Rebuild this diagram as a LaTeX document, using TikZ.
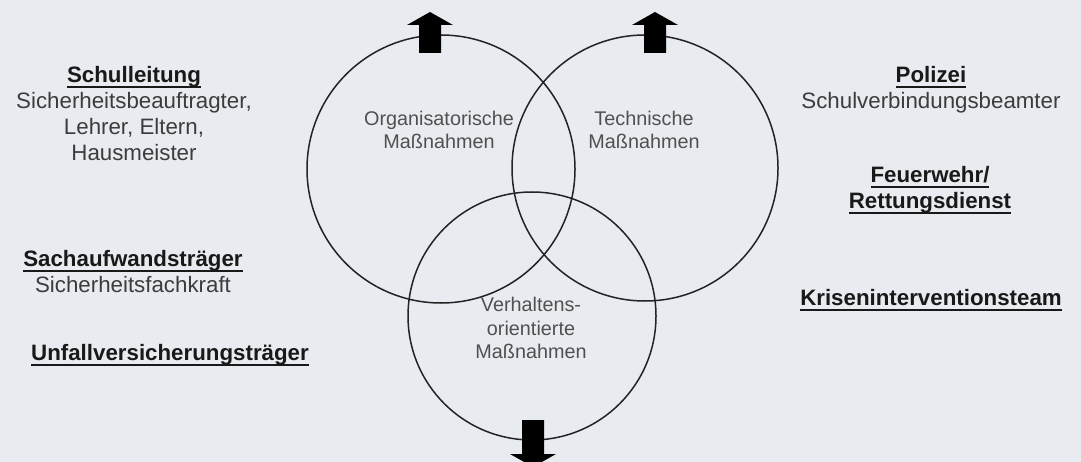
\documentclass[tikz,border=0pt]{standalone}
\usepackage{fontspec}
\setmainfont{Liberation Sans}
\usepackage{xcolor}
\usepackage{tikz}
\definecolor{bggray}{RGB}{232, 236, 240}
\definecolor{headgray}{RGB}{25, 25, 25}
\definecolor{textgray}{RGB}{60, 60, 60}
\definecolor{ringgray}{RGB}{35, 35, 35}
\newcommand{\ulhead}[1]{\setbox0=\hbox{\bfseries #1}\rlap{\rule[-5pt]{\wd0}{1.8pt}}\box0}

\begin{document}
\begin{tikzpicture}[x=1pt, y=-1pt,
    ring/.style={circle, draw=ringgray, line width=1.5pt, minimum size=#1, inner sep=0pt},
    party/.style={font=\fontsize{22.3}{26}\selectfont, text=textgray, align=center, inner sep=0pt},
    measure/.style={font=\fontsize{19.8}{23.5}\selectfont, text=textgray!90, align=center, inner sep=0pt},
    bigarrow/.pic={\fill[black] (-11,#1) -- (-11,13) -- (-23,13) -- (0,0) -- (23,13) -- (11,13) -- (11,#1) -- cycle;}]
    \fill[bggray] (0,0) rectangle (1081,462);
    \useasboundingbox (0,0) rectangle (1081,462);

    % the three fields
    \node[ring=268pt] (orgring) at (441,169) {};
    \node[ring=266pt] (techring) at (645,168) {};
    \node[ring=248pt] (verhring) at (532,316) {};

    \pic at (430,12) {bigarrow=41};
    \pic at (655,12) {bigarrow=41};
    \pic[rotate=180] at (533,467) {bigarrow=47};

    \node[measure] (org) at (439,130) {Organisatorische\\Maßnahmen};
    \node[measure] (tech) at (644,130) {Technische\\Maßnahmen};
    \node[measure] (verh) at (531,328) {Verhaltens-\\orientierte\\Maßnahmen};

    % partners left
    \node[party] (schulleitung) at (134,114) {\textcolor{headgray}{\ulhead{Schulleitung}}\\Sicherheitsbeauftragter,\\Lehrer, Eltern,\\Hausmeister};
    \node[party] (sachaufwand) at (133,272) {\textcolor{headgray}{\ulhead{Sachaufwandsträger}}\\Sicherheitsfachkraft};
    \node[party] (unfall) at (170,355) {\textcolor{headgray}{\ulhead{Unfallversicherungsträger}}};

    % partners right
    \node[party] (polizei) at (931,90) {\textcolor{headgray}{\ulhead{Polizei}}\\Schulverbindungsbeamter};
    \node[party, text=headgray] (feuerwehr) at (930,190) {\ulhead{Feuerwehr/}\\\ulhead{Rettungsdienst}};
    \node[party] (krisen) at (931,300) {\textcolor{headgray}{\ulhead{Kriseninterventionsteam}}};
\end{tikzpicture}
\end{document}
